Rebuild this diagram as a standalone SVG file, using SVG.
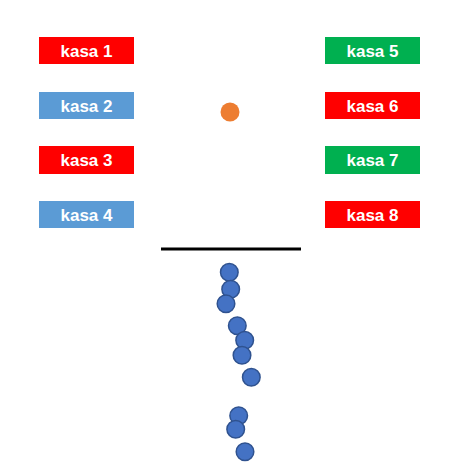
<svg xmlns="http://www.w3.org/2000/svg" width="463" height="474" viewBox="0 0 463 474">
<style>
.box text{font-family:"Liberation Sans",Arial,sans-serif;font-weight:bold;font-size:17px;fill:#fff;text-anchor:middle}
.red{fill:#FF0000}.blue{fill:#5B9BD5}.green{fill:#00B050}
.ball{fill:#4472C4;stroke:#2F528F;stroke-width:1.5}
</style>
<rect width="463" height="474" fill="#fff"/>
<g id="kasa1" class="box"><rect class="red" x="39" y="37" width="95" height="27"/><text x="86.5" y="56.5">kasa 1</text></g>
<g id="kasa2" class="box"><rect class="blue" x="39" y="92" width="95" height="27"/><text x="86.5" y="111.5">kasa 2</text></g>
<g id="kasa3" class="box"><rect class="red" x="39" y="146" width="95" height="28"/><text x="86.5" y="166">kasa 3</text></g>
<g id="kasa4" class="box"><rect class="blue" x="39" y="201" width="95" height="27"/><text x="86.5" y="220.5">kasa 4</text></g>
<g id="kasa5" class="box"><rect class="green" x="325" y="37" width="95" height="27"/><text x="372.5" y="56.5">kasa 5</text></g>
<g id="kasa6" class="box"><rect class="red" x="325" y="92" width="95" height="27"/><text x="372.5" y="111.5">kasa 6</text></g>
<g id="kasa7" class="box"><rect class="green" x="325" y="146" width="95" height="28"/><text x="372.5" y="166">kasa 7</text></g>
<g id="kasa8" class="box"><rect class="red" x="325" y="201" width="95" height="27"/><text x="372.5" y="220.5">kasa 8</text></g>
<g id="orange-ball"><circle cx="230" cy="112" r="9.5" fill="#ED7D31"/></g>
<g id="barrier"><line x1="161" y1="249" x2="301" y2="249" stroke="#000" stroke-width="3"/></g>
<g id="balls">
<circle class="ball" cx="229.3" cy="272.3" r="8.8"/>
<circle class="ball" cx="230.7" cy="289.3" r="8.8"/>
<circle class="ball" cx="226" cy="303.7" r="8.8"/>
<circle class="ball" cx="237.3" cy="325.7" r="8.8"/>
<circle class="ball" cx="244.7" cy="340.3" r="8.8"/>
<circle class="ball" cx="242" cy="355.3" r="8.8"/>
<circle class="ball" cx="251.3" cy="377.3" r="8.8"/>
<circle class="ball" cx="238.7" cy="415.7" r="8.8"/>
<circle class="ball" cx="235.7" cy="429.3" r="8.8"/>
<circle class="ball" cx="245" cy="451.7" r="8.8"/>
</g>
</svg>
